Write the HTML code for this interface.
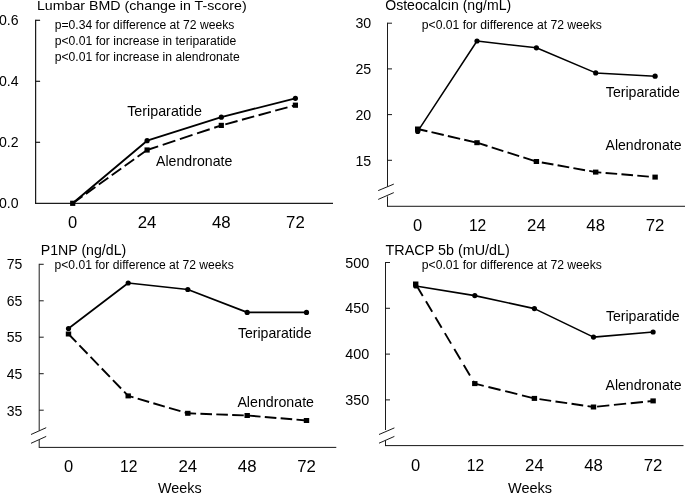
<!DOCTYPE html>
<html><head><meta charset="utf-8"><title>Figure</title>
<style>
html,body{margin:0;padding:0;background:#fff;}
body{width:685px;height:493px;overflow:hidden;font-family:"Liberation Sans",sans-serif;}
svg{display:block;will-change:transform;}
svg text{font-family:"Liberation Sans",sans-serif;fill:#000;}
</style></head>
<body>
<svg width="685" height="493" viewBox="0 0 685 493">
<defs><filter id="soft" x="0" y="0" width="685" height="493" filterUnits="userSpaceOnUse"><feGaussianBlur stdDeviation="0.25"/></filter></defs>
<rect x="0" y="0" width="685" height="493" fill="#fff"/>
<g filter="url(#soft)">
<line x1="35.6" y1="19.7" x2="35.6" y2="203.9" stroke="#1a1a1a" stroke-width="1.2"/>
<line x1="35.6" y1="203.3" x2="333" y2="203.3" stroke="#1a1a1a" stroke-width="1.2"/>
<line x1="35.6" y1="20.3" x2="40.1" y2="20.3" stroke="#1a1a1a" stroke-width="1.2"/>
<text x="18.6" y="25.2" font-size="14.5" text-anchor="end" textLength="19.6" lengthAdjust="spacingAndGlyphs">0.6</text>
<line x1="35.6" y1="81.3" x2="40.1" y2="81.3" stroke="#1a1a1a" stroke-width="1.2"/>
<text x="18.6" y="86.2" font-size="14.5" text-anchor="end" textLength="19.6" lengthAdjust="spacingAndGlyphs">0.4</text>
<line x1="35.6" y1="142.3" x2="40.1" y2="142.3" stroke="#1a1a1a" stroke-width="1.2"/>
<text x="18.6" y="147.2" font-size="14.5" text-anchor="end" textLength="19.6" lengthAdjust="spacingAndGlyphs">0.2</text>
<text x="18.6" y="208.2" font-size="14.5" text-anchor="end" textLength="19.6" lengthAdjust="spacingAndGlyphs">0.0</text>
<text x="36.9" y="10.0" font-size="13.5" text-anchor="start" textLength="209.8" lengthAdjust="spacingAndGlyphs">Lumbar BMD (change in T-score)</text>
<text x="54.7" y="29.0" font-size="12" text-anchor="start" textLength="179.7" lengthAdjust="spacingAndGlyphs">p=0.34 for difference at 72 weeks</text>
<text x="54.7" y="45.0" font-size="12" text-anchor="start" textLength="181.7" lengthAdjust="spacingAndGlyphs">p&lt;0.01 for increase in teriparatide</text>
<text x="54.7" y="61.0" font-size="12" text-anchor="start" textLength="185" lengthAdjust="spacingAndGlyphs">p&lt;0.01 for increase in alendronate</text>
<line x1="72.7" y1="203.3" x2="147.1" y2="150.0" stroke="#000" stroke-width="1.9" stroke-dasharray="11.7 4.2" stroke-dashoffset="15.59"/>
<line x1="147.1" y1="150.0" x2="221.3" y2="125.4" stroke="#000" stroke-width="1.9" stroke-dasharray="13.3 4.8" stroke-dashoffset="1.66"/>
<line x1="221.3" y1="125.4" x2="295.4" y2="105.2" stroke="#000" stroke-width="1.9" stroke-dasharray="12.7 4.55" stroke-dashoffset="13.10"/>
<polyline points="72.7,203.3 147.1,140.7 221.3,117.2 295.4,98.3" fill="none" stroke="#000" stroke-width="1.9" stroke-linejoin="round"/>
<rect x="70.10" y="200.70" width="5.2" height="5.2"/>
<rect x="144.50" y="147.40" width="5.2" height="5.2"/>
<rect x="218.70" y="122.80" width="5.2" height="5.2"/>
<rect x="292.80" y="102.60" width="5.2" height="5.2"/>
<circle cx="147.1" cy="140.7" r="2.6"/>
<circle cx="221.3" cy="117.2" r="2.6"/>
<circle cx="295.4" cy="98.3" r="2.6"/>
<text x="127.2" y="116" font-size="14.5" text-anchor="start" textLength="74.7" lengthAdjust="spacingAndGlyphs">Teriparatide</text>
<text x="156.0" y="166" font-size="14.5" text-anchor="start" textLength="76.3" lengthAdjust="spacingAndGlyphs">Alendronate</text>
<text x="72.7" y="227.7" font-size="15.6" text-anchor="middle" textLength="9.2" lengthAdjust="spacingAndGlyphs">0</text>
<text x="147.1" y="227.7" font-size="15.6" text-anchor="middle" textLength="18.7" lengthAdjust="spacingAndGlyphs">24</text>
<text x="221.3" y="227.7" font-size="15.6" text-anchor="middle" textLength="18.7" lengthAdjust="spacingAndGlyphs">48</text>
<text x="295.4" y="227.7" font-size="15.6" text-anchor="middle" textLength="18.7" lengthAdjust="spacingAndGlyphs">72</text>
<line x1="387.5" y1="22.7" x2="387.5" y2="186.6" stroke="#1a1a1a" stroke-width="1.0"/>
<line x1="387.5" y1="196.4" x2="387.5" y2="206.8" stroke="#1a1a1a" stroke-width="1.0"/>
<line x1="378.2" y1="190.6" x2="393.8" y2="184.1" stroke="#1a1a1a" stroke-width="1.0"/>
<line x1="378.2" y1="199.4" x2="393.8" y2="192.6" stroke="#1a1a1a" stroke-width="1.0"/>
<line x1="387.5" y1="206.3" x2="685" y2="206.3" stroke="#1a1a1a" stroke-width="1.0"/>
<line x1="387.5" y1="23.2" x2="392.0" y2="23.2" stroke="#1a1a1a" stroke-width="1.0"/>
<text x="371.2" y="28" font-size="14.5" text-anchor="end" textLength="15.8" lengthAdjust="spacingAndGlyphs">30</text>
<line x1="387.5" y1="68.9" x2="392.0" y2="68.9" stroke="#1a1a1a" stroke-width="1.0"/>
<text x="371.2" y="74" font-size="14.5" text-anchor="end" textLength="15.8" lengthAdjust="spacingAndGlyphs">25</text>
<line x1="387.5" y1="114.6" x2="392.0" y2="114.6" stroke="#1a1a1a" stroke-width="1.0"/>
<text x="371.2" y="120" font-size="14.5" text-anchor="end" textLength="15.8" lengthAdjust="spacingAndGlyphs">20</text>
<line x1="387.5" y1="160.3" x2="392.0" y2="160.3" stroke="#1a1a1a" stroke-width="1.0"/>
<text x="371.2" y="166" font-size="14.5" text-anchor="end" textLength="15.8" lengthAdjust="spacingAndGlyphs">15</text>
<text x="385.2" y="10.0" font-size="14.5" text-anchor="start" textLength="126.0" lengthAdjust="spacingAndGlyphs">Osteocalcin (ng/mL)</text>
<text x="421.8" y="29.0" font-size="12" text-anchor="start" textLength="180" lengthAdjust="spacingAndGlyphs">p&lt;0.01 for difference at 72 weeks</text>
<line x1="417.7" y1="129.0" x2="477.0" y2="142.7" stroke="#000" stroke-width="1.9" stroke-dasharray="12.6 4.2" stroke-dashoffset="2.64"/>
<line x1="477.0" y1="142.7" x2="536.4" y2="161.5" stroke="#000" stroke-width="1.9" stroke-dasharray="12.2 4.4" stroke-dashoffset="1.18"/>
<line x1="536.4" y1="161.5" x2="595.7" y2="172.1" stroke="#000" stroke-width="1.9" stroke-dasharray="11.8 4.25" stroke-dashoffset="10.56"/>
<line x1="595.7" y1="172.1" x2="655.1" y2="177.1" stroke="#000" stroke-width="1.9" stroke-dasharray="11.6 4.3" stroke-dashoffset="5.96"/>
<polyline points="417.7,131.4 477.0,41.0 536.4,47.8 595.7,72.9 655.1,76.2" fill="none" stroke="#000" stroke-width="1.5" stroke-linejoin="round"/>
<rect x="415.00" y="126.50" width="5.4" height="5.0"/>
<rect x="474.30" y="140.20" width="5.4" height="5.0"/>
<rect x="533.70" y="159.00" width="5.4" height="5.0"/>
<rect x="593.00" y="169.60" width="5.4" height="5.0"/>
<rect x="652.40" y="174.60" width="5.4" height="5.0"/>
<circle cx="417.7" cy="131.4" r="2.6"/>
<circle cx="477.0" cy="41.0" r="2.6"/>
<circle cx="536.4" cy="47.8" r="2.6"/>
<circle cx="595.7" cy="72.9" r="2.6"/>
<circle cx="655.1" cy="76.2" r="2.6"/>
<text x="605.8" y="97.3" font-size="14.5" text-anchor="start" textLength="74.0" lengthAdjust="spacingAndGlyphs">Teriparatide</text>
<text x="605.5" y="150" font-size="14.5" text-anchor="start" textLength="76.0" lengthAdjust="spacingAndGlyphs">Alendronate</text>
<text x="417.7" y="230.7" font-size="15.6" text-anchor="middle" textLength="9.2" lengthAdjust="spacingAndGlyphs">0</text>
<text x="477.6" y="230.7" font-size="15.6" text-anchor="middle" textLength="17.4" lengthAdjust="spacingAndGlyphs">12</text>
<text x="536.4" y="230.7" font-size="15.6" text-anchor="middle" textLength="18.7" lengthAdjust="spacingAndGlyphs">24</text>
<text x="595.7" y="230.7" font-size="15.6" text-anchor="middle" textLength="18.7" lengthAdjust="spacingAndGlyphs">48</text>
<text x="655.1" y="230.7" font-size="15.6" text-anchor="middle" textLength="18.7" lengthAdjust="spacingAndGlyphs">72</text>
<line x1="39.2" y1="263.8" x2="39.2" y2="430.6" stroke="#1a1a1a" stroke-width="1.0"/>
<line x1="39.2" y1="440.0" x2="39.2" y2="447.9" stroke="#1a1a1a" stroke-width="1.0"/>
<line x1="31.0" y1="434.5" x2="46.2" y2="427.7" stroke="#1a1a1a" stroke-width="1.0"/>
<line x1="31.0" y1="443.3" x2="46.2" y2="436.4" stroke="#1a1a1a" stroke-width="1.0"/>
<line x1="39.2" y1="447.4" x2="336.3" y2="447.4" stroke="#1a1a1a" stroke-width="1.0"/>
<line x1="39.2" y1="264.3" x2="43.7" y2="264.3" stroke="#1a1a1a" stroke-width="1.0"/>
<text x="22.3" y="269" font-size="14.5" text-anchor="end" textLength="15.6" lengthAdjust="spacingAndGlyphs">75</text>
<line x1="39.2" y1="300.8" x2="43.7" y2="300.8" stroke="#1a1a1a" stroke-width="1.0"/>
<text x="22.3" y="306" font-size="14.5" text-anchor="end" textLength="15.6" lengthAdjust="spacingAndGlyphs">65</text>
<line x1="39.2" y1="337.2" x2="43.7" y2="337.2" stroke="#1a1a1a" stroke-width="1.0"/>
<text x="22.3" y="342" font-size="14.5" text-anchor="end" textLength="15.6" lengthAdjust="spacingAndGlyphs">55</text>
<line x1="39.2" y1="373.7" x2="43.7" y2="373.7" stroke="#1a1a1a" stroke-width="1.0"/>
<text x="22.3" y="379" font-size="14.5" text-anchor="end" textLength="15.6" lengthAdjust="spacingAndGlyphs">45</text>
<line x1="39.2" y1="410.2" x2="43.7" y2="410.2" stroke="#1a1a1a" stroke-width="1.0"/>
<text x="22.3" y="416" font-size="14.5" text-anchor="end" textLength="15.6" lengthAdjust="spacingAndGlyphs">35</text>
<text x="40.7" y="254.6" font-size="14.5" text-anchor="start" textLength="85.6" lengthAdjust="spacingAndGlyphs">P1NP (ng/dL)</text>
<text x="54.5" y="269.0" font-size="12" text-anchor="start" textLength="179.2" lengthAdjust="spacingAndGlyphs">p&lt;0.01 for difference at 72 weeks</text>
<line x1="68.5" y1="334.0" x2="128.2" y2="395.9" stroke="#000" stroke-width="1.9" stroke-dasharray="11.7 4.4" stroke-dashoffset="0.40"/>
<line x1="128.2" y1="395.9" x2="187.8" y2="413.3" stroke="#000" stroke-width="1.9" stroke-dasharray="11.9 4.4" stroke-dashoffset="6.40"/>
<line x1="187.8" y1="413.3" x2="247.2" y2="415.5" stroke="#000" stroke-width="1.9" stroke-dasharray="11.6 4.3" stroke-dashoffset="3.29"/>
<line x1="247.2" y1="415.5" x2="306.5" y2="420.5" stroke="#000" stroke-width="1.9" stroke-dasharray="11.6 4.3" stroke-dashoffset="14.14"/>
<polyline points="68.5,328.5 128.2,283.0 187.8,289.5 247.2,312.4 306.5,312.4" fill="none" stroke="#000" stroke-width="1.7" stroke-linejoin="round"/>
<rect x="65.80" y="331.50" width="5.4" height="5.0"/>
<rect x="125.50" y="393.40" width="5.4" height="5.0"/>
<rect x="185.10" y="410.80" width="5.4" height="5.0"/>
<rect x="244.50" y="413.00" width="5.4" height="5.0"/>
<rect x="303.80" y="418.00" width="5.4" height="5.0"/>
<circle cx="68.5" cy="328.5" r="2.6"/>
<circle cx="128.2" cy="283.0" r="2.6"/>
<circle cx="187.8" cy="289.5" r="2.6"/>
<circle cx="247.2" cy="312.4" r="2.6"/>
<circle cx="306.5" cy="312.4" r="2.6"/>
<text x="237.9" y="338" font-size="14.5" text-anchor="start" textLength="73.6" lengthAdjust="spacingAndGlyphs">Teriparatide</text>
<text x="237.4" y="407" font-size="14.5" text-anchor="start" textLength="76.6" lengthAdjust="spacingAndGlyphs">Alendronate</text>
<text x="68.5" y="472.1" font-size="15.6" text-anchor="middle" textLength="9.2" lengthAdjust="spacingAndGlyphs">0</text>
<text x="128.8" y="472.1" font-size="15.6" text-anchor="middle" textLength="17.4" lengthAdjust="spacingAndGlyphs">12</text>
<text x="187.8" y="472.1" font-size="15.6" text-anchor="middle" textLength="18.7" lengthAdjust="spacingAndGlyphs">24</text>
<text x="247.2" y="472.1" font-size="15.6" text-anchor="middle" textLength="18.7" lengthAdjust="spacingAndGlyphs">48</text>
<text x="306.5" y="472.1" font-size="15.6" text-anchor="middle" textLength="18.7" lengthAdjust="spacingAndGlyphs">72</text>
<text x="158.0" y="493.3" font-size="14.5" text-anchor="start" textLength="43.6" lengthAdjust="spacingAndGlyphs">Weeks</text>
<line x1="385.5" y1="262.0" x2="385.5" y2="430.0" stroke="#1a1a1a" stroke-width="1.0"/>
<line x1="385.5" y1="440.3" x2="385.5" y2="446.1" stroke="#1a1a1a" stroke-width="1.0"/>
<line x1="379.0" y1="434.5" x2="394.4" y2="427.9" stroke="#1a1a1a" stroke-width="1.0"/>
<line x1="379.0" y1="443.2" x2="394.4" y2="436.4" stroke="#1a1a1a" stroke-width="1.0"/>
<line x1="385.5" y1="445.6" x2="683.5" y2="445.6" stroke="#1a1a1a" stroke-width="1.0"/>
<line x1="385.5" y1="262.5" x2="390.0" y2="262.5" stroke="#1a1a1a" stroke-width="1.0"/>
<text x="369.2" y="268" font-size="14.5" text-anchor="end" textLength="24.0" lengthAdjust="spacingAndGlyphs">500</text>
<line x1="385.5" y1="308.3" x2="390.0" y2="308.3" stroke="#1a1a1a" stroke-width="1.0"/>
<text x="369.2" y="313" font-size="14.5" text-anchor="end" textLength="24.0" lengthAdjust="spacingAndGlyphs">450</text>
<line x1="385.5" y1="354.1" x2="390.0" y2="354.1" stroke="#1a1a1a" stroke-width="1.0"/>
<text x="369.2" y="359" font-size="14.5" text-anchor="end" textLength="24.0" lengthAdjust="spacingAndGlyphs">400</text>
<line x1="385.5" y1="399.9" x2="390.0" y2="399.9" stroke="#1a1a1a" stroke-width="1.0"/>
<text x="369.2" y="405" font-size="14.5" text-anchor="end" textLength="24.0" lengthAdjust="spacingAndGlyphs">350</text>
<text x="385.6" y="254.6" font-size="14.5" text-anchor="start" textLength="124.2" lengthAdjust="spacingAndGlyphs">TRACP 5b (mU/dL)</text>
<text x="421.8" y="269.0" font-size="12" text-anchor="start" textLength="180" lengthAdjust="spacingAndGlyphs">p&lt;0.01 for difference at 72 weeks</text>
<line x1="415.7" y1="284.0" x2="474.8" y2="383.6" stroke="#000" stroke-width="1.9" stroke-dasharray="12.2 6.3" stroke-dashoffset="16.87"/>
<line x1="474.8" y1="383.6" x2="534.4" y2="398.4" stroke="#000" stroke-width="1.9" stroke-dasharray="12.5 4.8" stroke-dashoffset="3.29"/>
<line x1="534.4" y1="398.4" x2="593.5" y2="407.0" stroke="#000" stroke-width="1.9" stroke-dasharray="11.8 4.4" stroke-dashoffset="11.08"/>
<line x1="593.5" y1="407.0" x2="653.1" y2="400.9" stroke="#000" stroke-width="1.9" stroke-dasharray="12.3 4.6" stroke-dashoffset="13.29"/>
<polyline points="415.7,286.0 474.8,295.6 534.4,308.6 593.5,337.1 653.1,332.0" fill="none" stroke="#000" stroke-width="1.6" stroke-linejoin="round"/>
<rect x="413.00" y="281.50" width="5.4" height="5.0"/>
<rect x="472.10" y="381.10" width="5.4" height="5.0"/>
<rect x="531.70" y="395.90" width="5.4" height="5.0"/>
<rect x="590.80" y="404.50" width="5.4" height="5.0"/>
<rect x="650.40" y="398.40" width="5.4" height="5.0"/>
<circle cx="415.7" cy="286.0" r="2.6"/>
<circle cx="474.8" cy="295.6" r="2.6"/>
<circle cx="534.4" cy="308.6" r="2.6"/>
<circle cx="593.5" cy="337.1" r="2.6"/>
<circle cx="653.1" cy="332.0" r="2.6"/>
<text x="605.9" y="321" font-size="14.5" text-anchor="start" textLength="73.7" lengthAdjust="spacingAndGlyphs">Teriparatide</text>
<text x="605.5" y="390" font-size="14.5" text-anchor="start" textLength="76.0" lengthAdjust="spacingAndGlyphs">Alendronate</text>
<text x="415.7" y="470.6" font-size="15.6" text-anchor="middle" textLength="9.2" lengthAdjust="spacingAndGlyphs">0</text>
<text x="475.4" y="470.6" font-size="15.6" text-anchor="middle" textLength="17.4" lengthAdjust="spacingAndGlyphs">12</text>
<text x="534.4" y="470.6" font-size="15.6" text-anchor="middle" textLength="18.7" lengthAdjust="spacingAndGlyphs">24</text>
<text x="593.5" y="470.6" font-size="15.6" text-anchor="middle" textLength="18.7" lengthAdjust="spacingAndGlyphs">48</text>
<text x="653.1" y="470.6" font-size="15.6" text-anchor="middle" textLength="18.7" lengthAdjust="spacingAndGlyphs">72</text>
<text x="508.0" y="493.2" font-size="14.5" text-anchor="start" textLength="44.0" lengthAdjust="spacingAndGlyphs">Weeks</text>
</g>
</svg>
</body></html>
